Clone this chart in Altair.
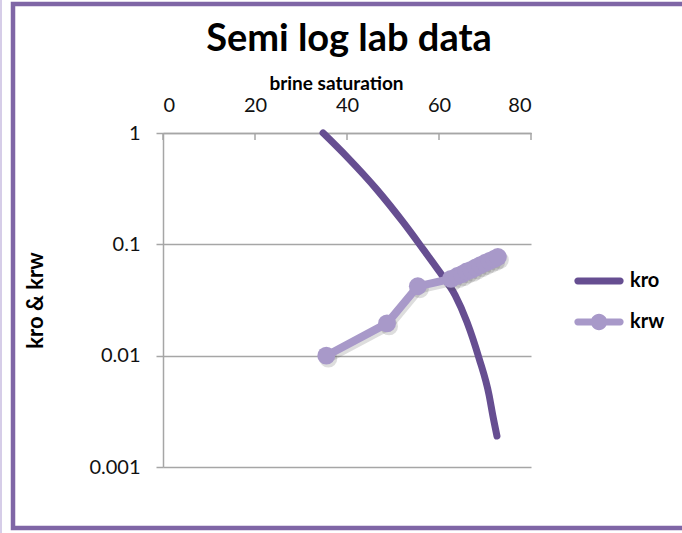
import altair as alt
import pandas as pd

# Oil relative permeability (kro) vs brine saturation, smoothed curve
sw_kro = [34.8, 40.0, 46.5, 52.2, 56.5, 60.2, 63.5, 66.1, 68.7, 70.9, 71.7, 72.6]
kro = [1.0, 0.61, 0.31, 0.158, 0.091, 0.056, 0.035, 0.020, 0.0095, 0.0044,
       0.0029, 0.0019]

# Brine relative permeability (krw) lab points
sw_krw = [35.5, 48.7, 55.4, 62.6, 64.0, 65.0, 66.0, 67.0, 68.0, 69.0,
          70.0, 71.0, 72.0, 72.8]
krw = [0.010, 0.0195, 0.042, 0.049, 0.052, 0.054, 0.057, 0.059, 0.062,
       0.065, 0.068, 0.071, 0.074, 0.077]

series = ["kro", "krw"]
x_ticks = [0, 20, 40, 60, 80]
y_ticks = [0.001, 0.01, 0.1, 1]
chart_title = "Semi log lab data"

KRO_COLOR = "#664e91"
KRW_COLOR = "#a899c9"
FRAME_COLOR = "#7f66a6"
GRID = "#a6a6a6"
FONT = "Lato"

kro_df = pd.DataFrame({"sw": sw_kro, "k": kro})
krw_df = pd.DataFrame({"sw": sw_krw, "k": krw})
series_df = pd.DataFrame({"series": series})
ticks_df = pd.DataFrame({"sw": x_ticks})
title_df = pd.DataFrame({"label": [chart_title]})

x_scale = alt.Scale(domain=[0, 80], nice=False)
y_scale = alt.Scale(type="log", domain=[0.001, 1], nice=False)

x_enc = alt.X(
    "sw:Q", scale=x_scale,
    axis=alt.Axis(
        orient="top", values=x_ticks, title="brine saturation",
        grid=False, ticks=False, tickSize=0, domain=True, domainColor=GRID,
        domainWidth=1.5, labelFontSize=20, labelFont=FONT, labelColor="#111",
        labelPadding=18, titleFont=FONT, titleFontSize=19, titleFontWeight="bold",
        titleColor="#000", titleX=173, titleY=-50, titleBaseline="middle",
    ),
)
y_enc = alt.Y(
    "k:Q", scale=y_scale,
    axis=alt.Axis(
        values=y_ticks, format="~g", title="kro & krw",
        grid=True, gridColor=GRID, gridWidth=1.5,
        domain=True, domainColor=GRID, domainWidth=1.5,
        ticks=True, tickSize=7, tickColor=GRID, tickWidth=1.5,
        labelFontSize=20, labelFont=FONT, labelColor="#111", labelPadding=16,
        titleFont=FONT, titleFontSize=22, titleFontWeight="bold", titleColor="#000",
        titleAngle=270, titleX=-128, titleY=167, titleAlign="center",
        titleBaseline="middle",
    ),
)

# Chart heading
heading = alt.Chart(title_df).mark_text(
    font=FONT, fontSize=38, fontWeight="bold", color="#000",
    align="center", baseline="alphabetic",
).encode(text="label:N", x=alt.value(186), y=alt.value(-82))

# Hanging tick marks under the top axis
tick_marks = alt.Chart(ticks_df).mark_rule(color=GRID, strokeWidth=1.5).encode(
    x=alt.X("sw:Q", scale=x_scale), y=alt.value(0), y2=alt.value(7)
)

kro_line = alt.Chart(kro_df).mark_line(
    color=KRO_COLOR, strokeWidth=7, interpolate="monotone", strokeCap="round"
).encode(x=x_enc, y=y_enc)

krw_shadow = alt.Chart(krw_df).mark_line(
    color="#444", strokeWidth=8, opacity=0.18, xOffset=2, yOffset=3,
    strokeCap="round", strokeJoin="round",
).encode(x=alt.X("sw:Q", scale=x_scale), y=alt.Y("k:Q", scale=y_scale))

krw_pt_shadow = alt.Chart(krw_df).mark_circle(
    color="#444", size=320, opacity=0.18, xOffset=2, yOffset=3
).encode(x=alt.X("sw:Q", scale=x_scale), y=alt.Y("k:Q", scale=y_scale))

krw_line = alt.Chart(krw_df).mark_line(
    color=KRW_COLOR, strokeWidth=8, strokeCap="round", strokeJoin="round"
).encode(x=alt.X("sw:Q", scale=x_scale), y=alt.Y("k:Q", scale=y_scale))

krw_pts = alt.Chart(krw_df).mark_circle(
    color=KRW_COLOR, size=320, opacity=1
).encode(x=alt.X("sw:Q", scale=x_scale), y=alt.Y("k:Q", scale=y_scale))

# Legend symbols: a rounded bar, and a rounded bar with a dot for the point series
bar = ("M-1.25,-0.2 H1.25 A0.2,0.2 0 0 1 1.25,0.2 H-1.25 "
       "A0.2,0.2 0 0 1 -1.25,-0.2 Z")
dot = " M0.48,0 A0.48,0.48 0 1 1 -0.48,0 A0.48,0.48 0 1 1 0.48,0 Z"

legend_props = dict(
    title=None, orient="none", legendX=419, legendY=131, padding=0,
    symbolSize=1156, symbolStrokeWidth=0, labelOffset=14,
    labelFont=FONT, labelFontSize=20, labelFontWeight="bold",
    labelColor="#000", rowPadding=14,
)

legend_layer = alt.Chart(series_df).mark_point(filled=True, opacity=1).encode(
    color=alt.Color(
        "series:N",
        scale=alt.Scale(domain=series, range=[KRO_COLOR, KRW_COLOR]),
        legend=alt.Legend(**legend_props),
    ),
    shape=alt.Shape(
        "series:N",
        scale=alt.Scale(domain=series, range=[bar, bar + dot]),
        legend=alt.Legend(**legend_props),
    ),
).transform_filter("false")

# Chart frame
frame = alt.Chart(series_df.head(1)).mark_rect(
    fill=None, stroke=FRAME_COLOR, strokeWidth=4.5
).encode(
    x=alt.value(-150), x2=alt.value(560), y=alt.value(-129), y2=alt.value(395)
)
edge = alt.Chart(series_df.head(1)).mark_rule(
    color="#c9bde0", strokeWidth=1.5
).encode(x=alt.value(-162), y=alt.value(-133), y2=alt.value(400))

chart = alt.layer(
    frame, edge, heading, tick_marks, kro_line, krw_shadow, krw_pt_shadow,
    krw_line, krw_pts, legend_layer,
).properties(
    width=368, height=334,
    autosize=alt.AutoSizeParams(type="none"),
    padding={"left": 163, "top": 133, "right": 151, "bottom": 66},
    background="white",
).configure_view(stroke=None)

chart.save("out.html", embed_options={"renderer": "svg", "actions": False})
